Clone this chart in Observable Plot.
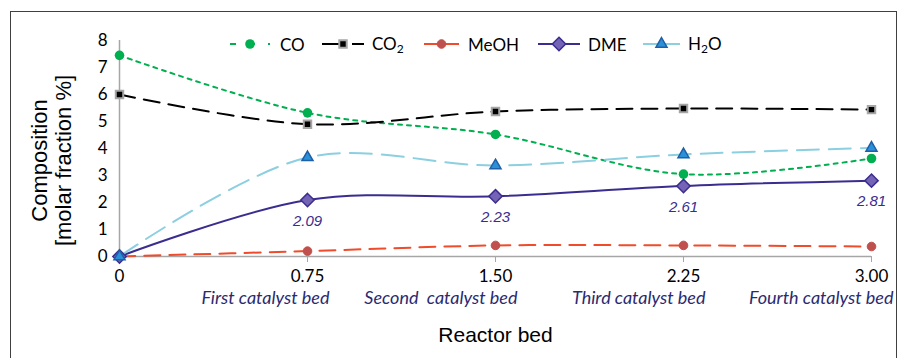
<!DOCTYPE html>
<html>
<head>
<meta charset="utf-8">
<script src="https://cdn.jsdelivr.net/npm/d3@7"></script>
<script src="https://cdn.jsdelivr.net/npm/@observablehq/plot@0.6"></script>
<style>
  body { margin: 0; background: #fff; }
  #wrap { position: relative; width: 907px; height: 358px; overflow: hidden; background: #fff; }
  #frame { position: absolute; left: 10px; top: 11px; width: 887px; height: 400px; border: 1.5px solid #404040; box-sizing: border-box; pointer-events: none; }
  #legend { position: absolute; left: 0; top: 33px; width: 907px; height: 22px; font-family: Lato, "Open Sans", sans-serif; font-size: 17px; color: #000; }
  #legend .item { position: absolute; top: 0; display: flex; align-items: center; height: 22px; white-space: nowrap; }
  #legend svg { display: block; }
  #chart svg { display: block; }
</style>
</head>
<body>
<div id="wrap">
  <div id="chart"></div>
  <div id="frame"></div>
  <div id="legend"></div>
</div>
<script>
// Reactor bed positions and labels
const beds = [0, 0.75, 1.5, 2.25, 3.0];
const tickLabels = ["0", "0.75", "1.50", "2.25", "3.00"];
const bedNames = ["First catalyst bed", "Second  catalyst bed", "Third catalyst bed", "Fourth catalyst bed"];
const bedNameAt = [0.75, 1.5, 2.25, 3.0];

// Composition [molar fraction %]
const co   = [7.45, 5.32, 4.52, 3.05, 3.63];
const co2  = [6.0, 4.9, 5.37, 5.48, 5.44];
const meoh = [0.0, 0.2, 0.41, 0.41, 0.37];
const dme  = [0.0, 2.09, 2.23, 2.61, 2.81];
const h2o  = [0.0, 3.67, 3.37, 3.78, 4.02];

const seriesNames = ["CO", "CO2", "MeOH", "DME", "H2O"];
const seriesValues = [co, co2, meoh, dme, h2o];

const styles = {
  CO:   {line: "#00b050", dash: "4,5", width: 2, symbol: "circle", r: 4.8, fill: "#00b050", mstroke: "#00b050", mwidth: 0},
  CO2:  {line: "#000000", dash: "16,9", width: 2, symbol: "square", r: 4.2, fill: "#000000", mstroke: "#a6a6a6", mwidth: 2},
  MeOH: {line: "#f04b2a", dash: "16,9", width: 2, symbol: "circle", r: 4.3, fill: "#c0504d", mstroke: "#c0504d", mwidth: 1},
  DME:  {line: "#3a2d8f", dash: null, width: 2, symbol: "diamond2", r: 6, fill: "#7563b5", mstroke: "#3a2d8f", mwidth: 1.5},
  H2O:  {line: "#8ccfe0", dash: "22,10", width: 2, symbol: "triangle", r: 4.1, fill: "#2a90d8", mstroke: "#1f5fa8", mwidth: 1.5}
};

const rows = [];
seriesNames.forEach((s, i) => beds.forEach((b, j) => rows.push({series: s, bed: b, value: seriesValues[i][j]})));

const sans = "Lato, 'Open Sans', sans-serif";
const arial = "'Liberation Sans', Arial, sans-serif";

const marks = [
  Plot.ruleY([0], {stroke: "#a6a6a6", strokeWidth: 1.5}),
  Plot.ruleX([0], {y1: 0, y2: 8, stroke: "#a6a6a6", strokeWidth: 1.5}),
  Plot.axisY({ticks: d3.range(0, 9), tickSize: 0, tickPadding: 12, fontSize: 17, fontFamily: sans, label: null, color: "#000"}),
  Plot.axisX({ticks: beds, tickSize: 6, tickPadding: 7, stroke: "#a6a6a6", fontSize: 17, fontFamily: sans,
    tickFormat: d => tickLabels[beds.indexOf(d)], label: null, color: "#000"})
];

seriesNames.forEach(s => {
  const st = styles[s];
  marks.push(Plot.line(rows.filter(r => r.series === s), {
    x: "bed", y: "value", curve: "catmull-rom", stroke: st.line, strokeWidth: st.width,
    strokeDasharray: st.dash || undefined
  }));
});
seriesNames.forEach(s => {
  const st = styles[s];
  marks.push(Plot.dot(rows.filter(r => r.series === s), {
    x: "bed", y: "value", symbol: () => st.symbol, r: st.r, fill: st.fill, stroke: st.mstroke, strokeWidth: st.mwidth
  }));
});

// DME data labels
marks.push(Plot.text(rows.filter(r => r.series === "DME" && r.bed > 0), {
  x: "bed", y: "value", text: d => d.value.toFixed(2), dy: 21, fill: "#3a2d8f",
  fontSize: 15, fontStyle: "italic", fontFamily: arial
}));

// Catalyst bed names
marks.push(Plot.text(bedNames.map((n, i) => ({n, x: bedNameAt[i]})), {
  x: "x", frameAnchor: "bottom", text: "n", textAnchor: "end", dx: 22, dy: 47,
  fill: "#2b2a70", fontSize: 18, fontStyle: "italic", fontFamily: sans
}));

// Axis titles
marks.push(Plot.text(["Reactor bed"], {
  frameAnchor: "bottom", text: d => d, dy: 85, fontSize: 21, fill: "#000", fontFamily: arial
}));
marks.push(Plot.text(["Composition\n[molar fraction %]"], {
  frameAnchor: "left", textAnchor: "middle", lineAnchor: "middle", text: d => d, rotate: -90,
  dx: -68, dy: 12, lineHeight: 1.08, fontSize: 22, fill: "#000", fontFamily: arial
}));

const chart = Plot.plot({
  width: 907,
  height: 358,
  marginLeft: 119,
  marginRight: 36,
  marginTop: 40,
  marginBottom: 102,
  x: {domain: [0, 3]},
  y: {domain: [0, 8]},
  style: {background: "transparent", overflow: "visible"},
  marks
});
document.getElementById("chart").appendChild(chart);

// Legend (HTML overlay, as in the original figure)
const legend = document.getElementById("legend");
const sub = "<sub style='font-size:12px;vertical-align:-3px'>2</sub>";
const legendLabels = {CO: "CO", CO2: "CO" + sub, MeOH: "MeOH", DME: "DME", H2O: "H" + sub + "O"};
const legendLeft = {CO: 230, CO2: 322, MeOH: 424, DME: 538, H2O: 643};
const legendWidth = {CO: 40, CO2: 42, MeOH: 35, DME: 42, H2O: 37};
const legendGap = {CO: 10, CO2: 8, MeOH: 9, DME: 8, H2O: 8};
const legendDash = {CO: "6,13", CO2: "20,10", MeOH: null, DME: null, H2O: null};
const symbolType = {circle: d3.symbolCircle, square: d3.symbolSquare, diamond2: d3.symbolDiamond2, triangle: d3.symbolTriangle};
seriesNames.forEach(s => {
  const st = styles[s];
  const item = document.createElement("div");
  item.className = "item";
  item.style.left = legendLeft[s] + "px";
  const w = legendWidth[s], h = 20;
  const svg = d3.create("svg").attr("width", w).attr("height", h).style("margin-right", legendGap[s] + "px");
  svg.append("line").attr("x1", 0).attr("x2", w).attr("y1", h / 2).attr("y2", h / 2)
    .attr("stroke", st.line).attr("stroke-width", 2)
    .attr("stroke-dasharray", legendDash[s]);
  svg.append("path").attr("transform", `translate(${w / 2},${h / 2})`)
    .attr("d", d3.symbol(symbolType[st.symbol], Math.PI * st.r * st.r)())
    .attr("fill", st.fill).attr("stroke", st.mstroke).attr("stroke-width", st.mwidth);
  item.appendChild(svg.node());
  const label = document.createElement("span");
  label.innerHTML = legendLabels[s];
  item.appendChild(label);
  legend.appendChild(item);
});
</script>
</body>
</html>
